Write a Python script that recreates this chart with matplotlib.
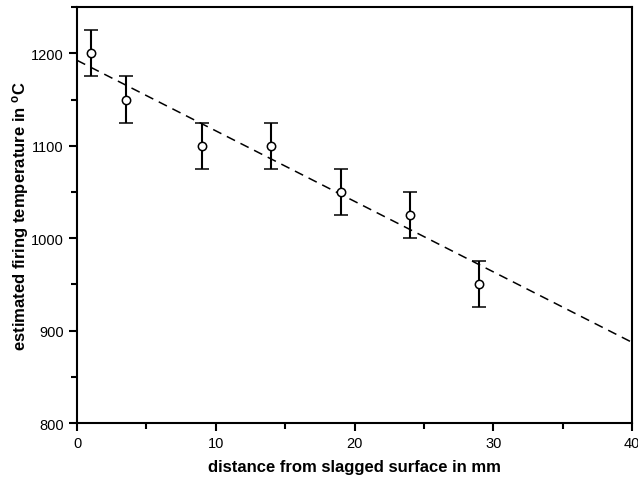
import numpy as np
import matplotlib
matplotlib.use('Agg')
import matplotlib.pyplot as plt
from matplotlib.ticker import MultipleLocator

plt.rcParams['font.family'] = ['Liberation Sans', 'DejaVu Sans']
plt.rcParams['mathtext.fontset'] = 'custom'
plt.rcParams['mathtext.bf'] = 'Liberation Sans:bold'
plt.rcParams['mathtext.rm'] = 'Liberation Sans'

distance = [1, 3.5, 9, 14, 19, 24, 29]
temperature = [1200, 1150, 1100, 1100, 1050, 1025, 950]
temp_err = [25, 25, 25, 25, 25, 25, 25]

# fitted line
fit_intercept = 1192.5
fit_slope = -7.63
fit_x = [0, 40]

fig = plt.figure(figsize=[6.38, 4.81], dpi=100)
ax = fig.add_axes([0.1207, 0.1185, 0.8699, 0.8645])

fx = np.array(fit_x)
ax.plot(fx, fit_intercept + fit_slope*fx, color='black', ls=(0, (6, 4)), lw=1.1)
ax.errorbar(distance, temperature, yerr=temp_err, fmt='o', mfc='white', mec='black',
            ms=6, mew=1.1, ecolor='black', elinewidth=1.5, capsize=5, capthick=1.5, zorder=3)

ax.set_xlim(0, 40)
ax.set_ylim(800, 1250)
ax.xaxis.set_major_locator(MultipleLocator(10))
ax.xaxis.set_minor_locator(MultipleLocator(5))
ax.yaxis.set_major_locator(MultipleLocator(100))
ax.yaxis.set_minor_locator(MultipleLocator(50))
ax.tick_params(which='both', direction='out', width=1.5, labelsize=10.5)
ax.tick_params(which='major', length=6)
ax.tick_params(which='minor', length=4)
for s in ax.spines.values():
    s.set_linewidth(1.5)

ax.set_xlabel('distance from slagged surface in mm', fontsize=12, fontweight='bold', labelpad=6)
ax.set_ylabel(r'estimated firing temperature in $\mathbf{^oC}$', fontsize=12, fontweight='bold', labelpad=0)

fig.savefig('out.png', dpi=100)
